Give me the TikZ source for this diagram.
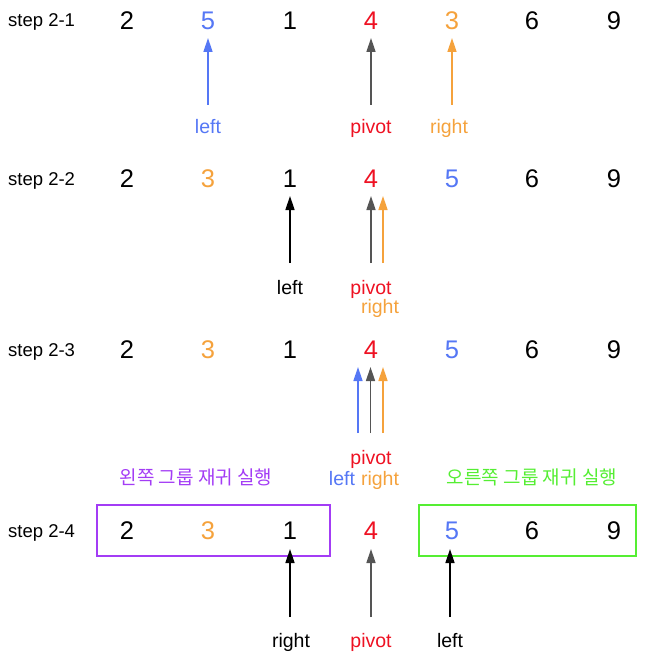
\documentclass[tikz,border=0pt]{standalone}
\usepackage{fontspec}
\setmainfont{Liberation Sans}
\newfontfamily\krfont{Noto Sans CJK KR}
\usetikzlibrary{arrows.meta}
\definecolor{cblue}{HTML}{5577F5}
\definecolor{cred}{HTML}{EE1122}
\definecolor{corange}{HTML}{F5A23C}
\definecolor{cgray}{HTML}{555555}
\definecolor{cpurple}{HTML}{A33CF5}
\definecolor{cgreen}{HTML}{55EE33}
\tikzset{
  num/.style={anchor=base, inner sep=0pt, font=\fontsize{25.5}{30}\selectfont},
  steplbl/.style={anchor=base west, inner sep=0pt, font=\fontsize{18.5}{22}\selectfont},
  ptr/.style={anchor=base, inner sep=0pt, font=\fontsize{19.5}{23}\selectfont},
  kr/.style={anchor=base, inner sep=0pt, font=\krfont\fontsize{19}{22}\selectfont},
  arr/.style={line width=1.5pt, -{Triangle[length=14pt,width=9pt]}},
  grpbox/.style={line width=2pt}
}
\begin{document}
\begin{tikzpicture}[x=1pt,y=-1pt]
\useasboundingbox (0,0) rectangle (645,663);
% ---------- row 1 ----------
\node[steplbl] (s1) at (8,27) {step 2-1};
\node[num] (r1a) at (127,29.5) {2};
\node[num,text=cblue] (r1b) at (208,29.5) {5};
\node[num] (r1c) at (290,29.5) {1};
\node[num,text=cred] (r1d) at (371,29.5) {4};
\node[num,text=corange] (r1e) at (452,29.5) {3};
\node[num] (r1f) at (532,29.5) {6};
\node[num] (r1g) at (614,29.5) {9};
\coordinate (r1lt) at (208,105); \coordinate (r1lh) at (208,38);
\coordinate (r1pt) at (371,105); \coordinate (r1ph) at (371,38);
\coordinate (r1rt) at (452,105); \coordinate (r1rh) at (452,38);
\draw[arr,cblue] (r1lt) -- (r1lh);
\draw[arr,cgray] (r1pt) -- (r1ph);
\draw[arr,corange] (r1rt) -- (r1rh);
\node[ptr,text=cblue] (r1ll) at (208,134) {left};
\node[ptr,text=cred] (r1pl) at (371,134) {pivot};
\node[ptr,text=corange] (r1rl) at (449,134) {right};
% ---------- row 2 ----------
\node[steplbl] (s2) at (8,185) {step 2-2};
\node[num] (r2a) at (127,187.5) {2};
\node[num,text=corange] (r2b) at (208,187.5) {3};
\node[num] (r2c) at (290,187.5) {1};
\node[num,text=cred] (r2d) at (371,187.5) {4};
\node[num,text=cblue] (r2e) at (452,187.5) {5};
\node[num] (r2f) at (532,187.5) {6};
\node[num] (r2g) at (614,187.5) {9};
\coordinate (r2lt) at (290,263); \coordinate (r2lh) at (290,196);
\coordinate (r2pt) at (371,263); \coordinate (r2ph) at (371,196);
\coordinate (r2rt) at (383,263); \coordinate (r2rh) at (383,196);
\draw[arr,black] (r2lt) -- (r2lh);
\draw[arr,cgray] (r2pt) -- (r2ph);
\draw[arr,corange] (r2rt) -- (r2rh);
\node[ptr] (r2ll) at (290,294) {left};
\node[ptr,text=cred] (r2pl) at (371,294) {pivot};
\node[ptr,text=corange] (r2rl) at (380,313) {right};
% ---------- row 3 ----------
\node[steplbl] (s3) at (8,356) {step 2-3};
\node[num] (r3a) at (127,358.5) {2};
\node[num,text=corange] (r3b) at (208,358.5) {3};
\node[num] (r3c) at (290,358.5) {1};
\node[num,text=cred] (r3d) at (371,358.5) {4};
\node[num,text=cblue] (r3e) at (452,358.5) {5};
\node[num] (r3f) at (532,358.5) {6};
\node[num] (r3g) at (614,358.5) {9};
\coordinate (r3lt) at (358,433); \coordinate (r3lh) at (358,367);
\coordinate (r3pt) at (370.5,433); \coordinate (r3ph) at (370.5,367);
\coordinate (r3rt) at (383,433); \coordinate (r3rh) at (383,367);
\draw[arr,cblue] (r3lt) -- (r3lh);
\draw[arr,cgray] (r3pt) -- (r3ph);
\draw[arr,corange] (r3rt) -- (r3rh);
\node[ptr,text=cred] (r3pl) at (371,464) {pivot};
\node[ptr,text=cblue] (r3ll) at (342,485) {left};
\node[ptr,text=corange] (r3rl) at (380,485) {right};
% ---------- row 4 ----------
\node[kr,text=cpurple] (kl) at (196,484) {왼쪽 그룹 재귀 실행};
\node[kr,text=cgreen] (kr) at (532,484) {오른쪽 그룹 재귀 실행};
\node[steplbl] (s4) at (8,537) {step 2-4};
\draw[grpbox,cpurple] (97,505) rectangle (330,556);
\draw[grpbox,cgreen] (419,505) rectangle (636,556);
\node[num] (r4a) at (127,539) {2};
\node[num,text=corange] (r4b) at (208,539) {3};
\node[num] (r4c) at (290,539) {1};
\node[num,text=cred] (r4d) at (371,539) {4};
\node[num,text=cblue] (r4e) at (452,539) {5};
\node[num] (r4f) at (532,539) {6};
\node[num] (r4g) at (614,539) {9};
\coordinate (r4rt) at (290,617); \coordinate (r4rh) at (290,549);
\coordinate (r4pt) at (371,617); \coordinate (r4ph) at (371,549);
\coordinate (r4lt) at (450,617); \coordinate (r4lh) at (450,549);
\draw[arr,black] (r4rt) -- (r4rh);
\draw[arr,cgray] (r4pt) -- (r4ph);
\draw[arr,black] (r4lt) -- (r4lh);
\node[ptr] (r4rl) at (291,647) {right};
\node[ptr,text=cred] (r4pl) at (371,647) {pivot};
\node[ptr] (r4ll) at (450,647) {left};
\end{tikzpicture}
\end{document}
